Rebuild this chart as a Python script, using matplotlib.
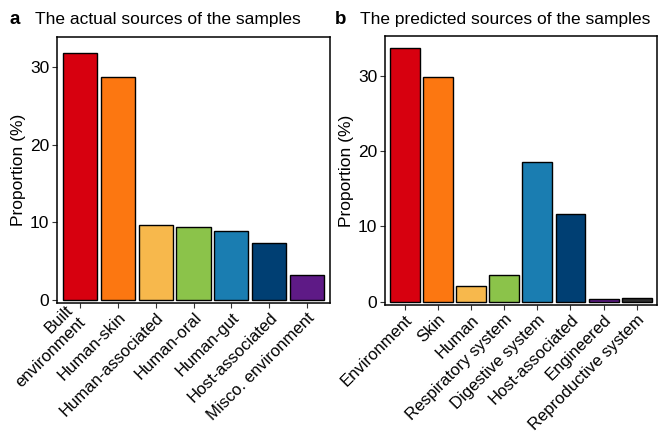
import numpy as np
import matplotlib.pyplot as plt
from matplotlib.transforms import ScaledTranslation

plt.rcParams['font.family'] = ['Liberation Sans', 'DejaVu Sans']

# Panel a data
actual_labels = ['Built\nenvironment', 'Human-skin', 'Human-associated', 'Human-oral',
                 'Human-gut', 'Host-associated', 'Misco. environment']
actual_values = [31.9, 28.8, 9.6, 9.4, 8.9, 7.3, 3.2]
actual_colors = ['#D7000F', '#FC7711', '#F7B84C', '#8BC34A', '#1A7DB1', '#003F73', '#5E1A86']

# Panel b data
pred_labels = ['Environment', 'Skin', 'Human', 'Respiratory system', 'Digestive system',
               'Host-associated', 'Engineered', 'Reproductive system']
pred_values = [33.7, 29.9, 2.1, 3.6, 18.5, 11.7, 0.35, 0.45]
pred_colors = ['#D7000F', '#FC7711', '#F7B84C', '#8BC34A', '#1A7DB1', '#003F73', '#5E1A86', '#2E2E2E']

fig = plt.figure(figsize=(6.6, 4.32), dpi=100)
ax_a = fig.add_axes([0.0864, 0.2986, 0.4136, 0.6154])
ax_b = fig.add_axes([0.583, 0.294, 0.412, 0.6227])


def draw(ax, labels, values, colors, ylim):
    x = np.arange(len(values))
    ax.bar(x, values, width=0.9, color=colors, edgecolor='black', linewidth=1.0)
    ax.set_xlim(-0.6, len(values) - 0.4)
    ax.set_ylim(*ylim)
    ax.set_yticks([0, 10, 20, 30])
    ax.set_xticks(x)
    ax.set_xticklabels(labels, rotation=45, ha='right', rotation_mode='anchor',
                       multialignment='right')
    ax.tick_params(axis='both', direction='out', length=3.5, width=0.8,
                   color='#333333', labelcolor='black', pad=2)
    ax.tick_params(axis='y', labelsize=12.5)
    ax.tick_params(axis='x', labelsize=12, pad=1.5)
    for t in ax.get_xticklabels():
        if '\n' in t.get_text():
            t.set_va('center')
            t.set_transform(t.get_transform() +
                            ScaledTranslation(-2 / 72, -3 / 72, fig.dpi_scale_trans))
    for s in ax.spines.values():
        s.set_linewidth(1.1)
        s.set_color('black')
    ax.set_ylabel('Proportion (%)', fontsize=12.5, labelpad=3)


draw(ax_a, actual_labels, actual_values, actual_colors, (-0.4, 33.9))
draw(ax_b, pred_labels, pred_values, pred_colors, (-0.45, 35.3))

fig.text(0.015, 0.945, 'a', fontsize=13.5, fontweight='bold', va='baseline')
fig.text(0.053, 0.945, 'The actual sources of the samples', fontsize=12.5, va='baseline')
fig.text(0.508, 0.945, 'b', fontsize=13.5, fontweight='bold', va='baseline')
fig.text(0.545, 0.945, 'The predicted sources of the samples', fontsize=12.5, va='baseline')

fig.savefig('out.png', dpi=100)
